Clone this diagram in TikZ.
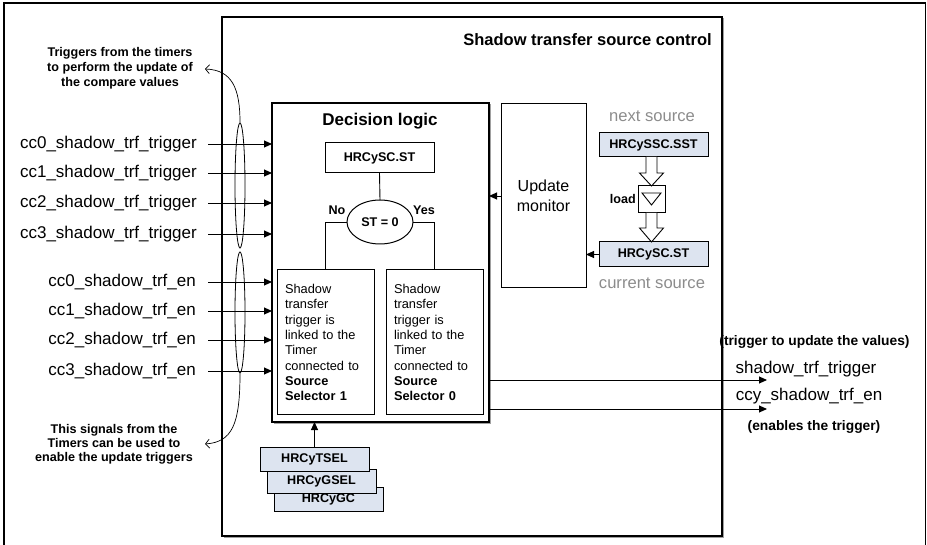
\documentclass[tikz,border=0pt]{standalone}
\usepackage{fontspec}
\setmainfont{Liberation Sans}
\usetikzlibrary{arrows.meta,calc,shapes.geometric}
\definecolor{regfill}{RGB}{221,228,240}
\definecolor{greytxt}{RGB}{140,140,140}
\definecolor{shadowgrey}{RGB}{160,160,160}
\begin{document}
\begin{tikzpicture}[x=1pt,y=-1pt,
  blk/.style={draw, line width=1pt, inner sep=0pt, outer sep=0pt},
  reg/.style={blk, fill=regfill, minimum width=109pt, minimum height=24pt, font=\bfseries\fontsize{12.6}{14}\selectfont},
  arr/.style={line width=0.9pt, -{Triangle[length=8pt,width=7pt]}},
  barb/.style={line width=0.7pt, -{Straight Barb[length=4pt,width=9pt]}},
  sig/.style={font=\fontsize{17}{20}\selectfont, inner sep=0pt, anchor=east},
  lbl/.style={font=\bfseries\fontsize{12.6}{15}\selectfont, align=center, inner sep=0pt},
  grey/.style={text=greytxt, font=\fontsize{16.6}{20}\selectfont, inner sep=0pt},
  hollow/.style={line width=0.9pt, fill=white}
]
\useasboundingbox (0,0) rectangle (927,545);
% image frame
\draw[line width=1.1pt] (4,545) -- (4,3) -- (925.5,3) -- (925.5,545);

% outer box
\draw[shadowgrey, line width=1pt] (723.5,18.5) -- (723.5,537.5) -- (223.5,537.5);
\node[blk, line width=1.2pt, minimum width=500pt, minimum height=519pt] (outer) at (472,276.5) {};
\node[anchor=east, font=\bfseries\fontsize{16.5}{18}\selectfont, inner sep=0pt] (title) at (712,40) {Shadow transfer source control};

% decision logic
\draw[shadowgrey, line width=1pt] (490.5,104.5) -- (490.5,423.5) -- (273.5,423.5);
\node[blk, line width=1.1pt, minimum width=217pt, minimum height=319pt] (dl) at (380.5,262.5) {};
\node[font=\bfseries\fontsize{17}{20}\selectfont, inner sep=0pt] (dltitle) at (380,121) {Decision logic};
\node[blk, minimum width=109pt, minimum height=30pt, font=\bfseries\fontsize{12.6}{14}\selectfont] (st1) at (379.5,158) {HRCySC.ST};
\node[blk, ellipse, minimum width=66pt, minimum height=44pt, font=\bfseries\fontsize{12.6}{14}\selectfont] (dec) at (380,222) {ST = 0};
\node[lbl] (no) at (337,210) {No};
\node[lbl] (yes) at (424,210) {Yes};
\node[blk, minimum width=97pt, minimum height=145pt, text width=81pt, inner xsep=8pt, align=left, font=\fontsize{12.8}{15.3}\selectfont] (boxL) at (325.5,342.5) {Shadow\\transfer\\trigger is\\linked to the\\Timer\\connected to\\\textbf{Source}\\\textbf{Selector 1}};
\node[blk, minimum width=97pt, minimum height=145pt, text width=81pt, inner xsep=8pt, align=left, font=\fontsize{12.8}{15.3}\selectfont] (boxR) at (434.5,342.5) {Shadow\\transfer\\trigger is\\linked to the\\Timer\\connected to\\\textbf{Source}\\\textbf{Selector 0}};
\draw[line width=0.9pt] (st1.south) -- (dec.north);
\draw[line width=0.9pt] (dec.west) -| (boxL.north);
\draw[line width=0.9pt] (dec.east) -| (boxR.north);

% update monitor
\node[blk, minimum width=85pt, minimum height=184pt, align=center, font=\fontsize{16}{20}\selectfont] (um) at (543.5,196) {Update\\monitor};
\draw[arr] (um.west) -- (um.west -| dl.east);

% source registers
\node[grey] (nexts) at (652,116) {next source};
\node[reg] (sst) at (653.5,145) {HRCySSC.SST};
\node[blk, minimum width=27pt, minimum height=27pt] (ld) at (651.5,199.5) {};
\draw[line width=0.9pt] (642,193) -- (661,193) -- (651.5,205) -- cycle;
\node[anchor=east, font=\bfseries\fontsize{12.6}{14}\selectfont, inner sep=0pt] (load) at (636,199) {load};
\node[reg, minimum height=25pt] (st2) at (653.5,254.5) {HRCySC.ST};
\node[grey] (curs) at (652,283) {current source};
\draw[hollow] (646,157) -- (646,173) -- (639.5,173) -- (651.5,186) -- (663.5,173) -- (657,173) -- (657,157);
\draw[hollow] (646,213) -- (646,228) -- (639.5,228) -- (651.5,242) -- (663.5,228) -- (657,228) -- (657,213);
\draw[arr] (st2.west) -- (st2.west -| um.east);

% timer registers
\node[reg] (gc) at (328.5,499) {HRCyGC};
\node[reg] (gsel) at (321.5,481) {HRCyGSEL};
\node[reg] (tsel) at (314.5,459) {HRCyTSEL};
\draw[arr] (tsel.north) -- (tsel.north |- dl.south);

% input signals
\foreach \i/\y in {0/144,1/173,2/203,3/234}{
  \node[sig] (t\i) at (197,\y) {cc\i\_shadow\_trf\_trigger};
  \draw[arr] ([xshift=11pt]t\i.east) -- (t\i.east -| dl.west);
}
\foreach \i/\y in {0/282,1/311,2/340,3/371}{
  \node[sig] (n\i) at (196,\y) {cc\i\_shadow\_trf\_en};
  \draw[arr] ([xshift=12pt]n\i.east) -- (n\i.east -| dl.west);
}
\node[draw, ellipse, line width=0.8pt, minimum width=10pt, minimum height=125pt, inner sep=0pt] (e1) at (240,185.5) {};
\node[draw, ellipse, line width=0.8pt, minimum width=10pt, minimum height=121pt, inner sep=0pt] (e2) at (240,312.5) {};
\node[lbl] (ntop) at (120,68) {Triggers from the timers\\to perform the update of\\the compare values};
\node[lbl, font=\bfseries\fontsize{12.6}{14}\selectfont] (nbot) at (114,444) {This signals from the\\Timers can be used to\\enable the update triggers};
\coordinate (tipA) at (205,69);
\coordinate (tipB) at (205,444);
\draw[barb] (e1.north) .. controls (240,88) and (232,70) .. (tipA);
\draw[barb] (e2.south) .. controls (240,425) and (232,442) .. (tipB);

% outputs
\coordinate (o1) at (767,380);
\coordinate (o2) at (767,409);
\draw[arr] (dl.east |- o1) -- (o1);
\draw[arr] (dl.east |- o2) -- (o2);
\node[font=\bfseries\fontsize{13.8}{16}\selectfont, inner sep=0pt] (ol1) at (814.5,342) {(trigger to update the values)};
\node[font=\fontsize{17}{20}\selectfont, inner sep=0pt] (ol2) at (806,369) {shadow\_trf\_trigger};
\node[font=\fontsize{17}{20}\selectfont, inner sep=0pt] (ol3) at (809,396) {ccy\_shadow\_trf\_en};
\node[font=\bfseries\fontsize{13.8}{16}\selectfont, inner sep=0pt] (ol4) at (814,427) {(enables the trigger)};
\end{tikzpicture}
\end{document}
